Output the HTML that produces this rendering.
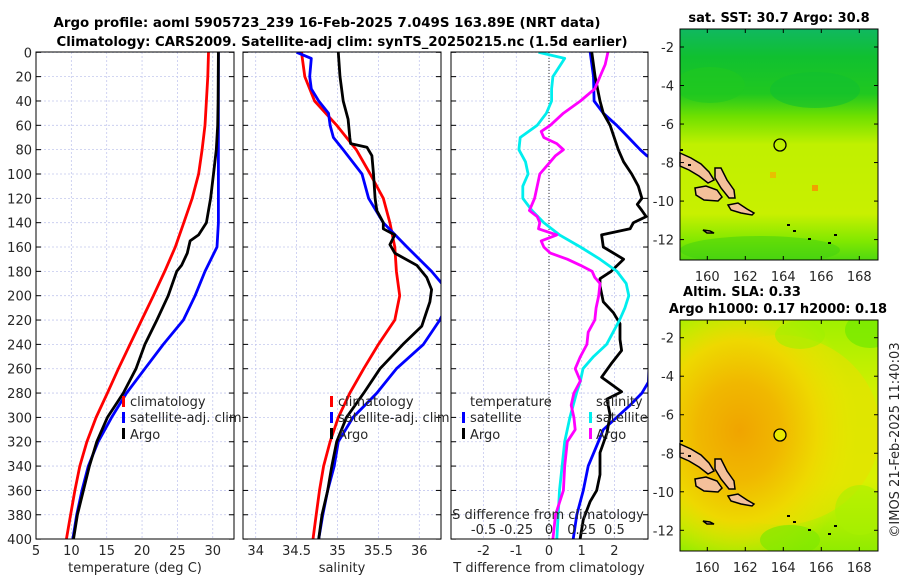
<!DOCTYPE html>
<html><head><meta charset="utf-8"><style>
html,body{margin:0;padding:0;background:#fff}
svg{display:block;font-family:"DejaVu Sans","Liberation Sans",sans-serif}
.tl{font-size:13px;fill:#262626}
.tt{font-size:13px;font-weight:bold;fill:#000}
</style></head><body>
<svg id="fig" width="900" height="580" viewBox="0 0 900 580" xmlns="http://www.w3.org/2000/svg">
<defs>
<clipPath id="c1"><rect x="36" y="52" width="198" height="487"/></clipPath>
<clipPath id="c2"><rect x="243" y="52" width="198" height="487"/></clipPath>
<clipPath id="c3"><rect x="451" y="52" width="197" height="487"/></clipPath>
<clipPath id="m1"><rect x="680" y="29" width="198" height="231"/></clipPath>
<clipPath id="m2"><rect x="680" y="320" width="198" height="231"/></clipPath>
<linearGradient id="sstg" x1="0" y1="0" x2="0" y2="1">
<stop offset="0" stop-color="#10b860"/><stop offset="0.12" stop-color="#10c030"/>
<stop offset="0.28" stop-color="#20c820"/><stop offset="0.38" stop-color="#70e000"/>
<stop offset="0.5" stop-color="#c0f000"/><stop offset="0.8" stop-color="#c8f000"/>
<stop offset="0.92" stop-color="#80e800"/><stop offset="1" stop-color="#50d810"/>
</linearGradient>
<radialGradient id="slao" cx="0.3" cy="0.48" r="0.6">
<stop offset="0" stop-color="#f0a400"/><stop offset="0.35" stop-color="#f0b800"/>
<stop offset="0.65" stop-color="#eed800"/><stop offset="1" stop-color="#e8e800" stop-opacity="0"/>
</radialGradient>
<linearGradient id="slab" x1="0" y1="0" x2="0" y2="1">
<stop offset="0" stop-color="#a0f000"/><stop offset="0.3" stop-color="#d0f000"/>
<stop offset="0.7" stop-color="#d8f000"/><stop offset="1" stop-color="#90ec00"/>
</linearGradient>
</defs>

<text class="tt" x="327" y="27" text-anchor="middle" textLength="547" lengthAdjust="spacingAndGlyphs">Argo profile: aoml 5905723_239 16-Feb-2025 7.049S 163.89E (NRT data)</text>
<text class="tt" x="342" y="46" text-anchor="middle" textLength="571" lengthAdjust="spacingAndGlyphs">Climatology: CARS2009. Satellite-adj clim: synTS_20250215.nc (1.5d earlier)</text>

<g id="p1"></g>
<g id="p2"></g>
<g id="p3"></g>

<g class="tl">
<rect x="122" y="396" width="3" height="11" fill="#f00"/><text x="130" y="406">climatology</text>
<rect x="122" y="412" width="3" height="11" fill="#00f"/><text x="130" y="422">satellite-adj. clim</text>
<rect x="122" y="428" width="3" height="11" fill="#000"/><text x="130" y="439">Argo</text>
</g>
<g class="tl">
<rect x="330" y="396" width="3" height="11" fill="#f00"/><text x="338" y="406">climatology</text>
<rect x="330" y="412" width="3" height="11" fill="#00f"/><text x="338" y="422">satellite-adj. clim</text>
<rect x="330" y="428" width="3" height="11" fill="#000"/><text x="338" y="439">Argo</text>
</g>
<g class="tl">
<text x="470" y="406">temperature</text>
<rect x="462" y="412" width="3" height="11" fill="#00f"/><text x="470" y="422">satellite</text>
<rect x="462" y="428" width="3" height="11" fill="#000"/><text x="470" y="439">Argo</text>
<text x="596" y="406">salinity</text>
<rect x="589" y="412" width="3" height="11" fill="#0ee"/><text x="596" y="422">satellite</text>
<rect x="589" y="428" width="3" height="11" fill="#f0f"/><text x="596" y="439">Argo</text>
</g>

<!-- maps -->
<g>
<text class="tt" x="779" y="22" text-anchor="middle">sat. SST: 30.7 Argo: 30.8</text>
<g clip-path="url(#m1)">
<rect x="680" y="29" width="198" height="231" fill="url(#sstg)"/>
<ellipse cx="710" cy="85" rx="35" ry="18" fill="#20c820" opacity="0.6"/>
<ellipse cx="815" cy="90" rx="45" ry="18" fill="#10c030" opacity="0.6"/>
<ellipse cx="760" cy="250" rx="80" ry="14" fill="#40d010" opacity="0.5"/>
<rect x="812" y="185" width="6" height="6" fill="#f0a000"/>
<rect x="770" y="172" width="6" height="6" fill="#e8c000"/>
</g>
<g id="isl1"></g>
<circle cx="780" cy="145" r="6" fill="none" stroke="#000" stroke-width="1.3"/>
<rect x="680" y="29" width="198" height="231" fill="none" stroke="#000" stroke-width="1"/>
</g>
<g>
<text class="tt" x="742" y="296" text-anchor="middle">Altim. SLA: 0.33</text>
<text class="tt" x="778" y="313" text-anchor="middle">Argo h1000: 0.17 h2000: 0.18</text>
<g clip-path="url(#m2)">
<rect x="680" y="320" width="198" height="231" fill="url(#slab)"/>
<ellipse cx="780" cy="430" rx="100" ry="95" fill="#e8e000" opacity="0.6"/>
<rect x="680" y="320" width="198" height="231" fill="url(#slao)"/>
<ellipse cx="870" cy="330" rx="25" ry="18" fill="#70e800" opacity="0.7"/>
<ellipse cx="800" cy="335" rx="25" ry="14" fill="#a0f000" opacity="0.6"/>
<ellipse cx="790" cy="540" rx="30" ry="15" fill="#80e800" opacity="0.7"/>
<ellipse cx="860" cy="510" rx="25" ry="25" fill="#a8f000" opacity="0.6"/>
</g>
<g id="isl2"></g>
<circle cx="780" cy="435" r="6" fill="#e8e800" stroke="#000" stroke-width="1.3"/>
<rect x="680" y="320" width="198" height="231" fill="none" stroke="#000" stroke-width="1"/>
</g>
<g id="mapaxes" class="tl"></g>
<text class="tl" transform="translate(899,440) rotate(-90)" text-anchor="middle">©IMOS 21-Feb-2025 11:40:03</text>

<script>
// ---- data (depth in m) ----
const depths = [0,20,40,60,80,100,120,140,160,180,200,220,240,260,280,300,320,340,360,380,400];
const tClim = [29.4,29.3,29.1,28.9,28.5,28.0,27.1,25.9,24.7,23.2,21.6,19.95,18.3,16.65,15.1,13.5,12.2,11.2,10.5,9.9,9.3];
const tSat  = [30.8,30.8,30.8,30.8,30.8,30.8,30.8,30.8,30.6,28.9,27.5,25.85,23.0,20.4,17.8,15.7,13.8,12.4,11.5,10.75,10.2];
const argoDepths = [0,40,60,80,100,120,130,140,150,155,165,175,180,200,220,240,260,280,300,320,340,360,380,400];
const tArgo = [30.8,30.75,30.7,30.5,30.1,29.7,29.4,29.1,28.0,26.8,26.4,25.6,24.9,23.7,22.1,20.4,19.15,17.35,15.1,13.6,12.55,11.7,10.85,10.3];

const sClim = [34.56,34.60,34.72,34.99,35.23,35.40,35.56,35.64,35.70,35.72,35.76,35.70,35.5,35.32,35.15,35.01,34.91,34.83,34.78,34.74,34.70];
const sSatDepths = [0,5,20,30,40,50,60,70,80,100,120,140,160,180,200,220,240,260,280,300,320,340,360,380,400];
const sSat = [34.50,34.68,34.66,34.68,34.77,34.89,34.91,34.95,35.07,35.30,35.38,35.56,35.85,36.15,36.40,36.25,36.05,35.72,35.48,35.19,35.01,34.96,34.88,34.82,34.77];
const sArgoDepths = [0,20,40,55,70,75,78,85,100,120,130,140,145,150,158,165,175,185,195,205,215,225,240,260,280,300,320,340,360,380,400];
const sArgo = [35.01,35.03,35.07,35.13,35.15,35.16,35.36,35.42,35.44,35.46,35.48,35.56,35.56,35.70,35.64,35.70,35.97,36.09,36.15,36.13,36.08,36.03,35.8,35.52,35.32,35.11,34.99,34.93,34.88,34.81,34.77];

const dtSatDepths = [0,20,40,50,60,70,80,85,90,271,280,290,300,310,320,340,360,380,400];
const dtSat = [1.26,1.36,1.38,1.66,2.07,2.43,2.79,2.99,3.3,3.04,2.84,2.48,2.07,1.66,1.51,1.2,1.05,0.85,0.74];
const dtArgoDepths = [0,20,40,50,60,80,90,100,110,120,125,130,135,140,145,150,160,170,180,186,192,205,214,223,236,245,256,267,279,285,298,313,329,347,360,369,384,400];
const dtArgo = [1.31,1.41,1.56,1.66,1.87,2.12,2.28,2.53,2.73,2.84,2.7,2.84,2.97,2.58,2.48,1.61,1.66,2.28,1.9,1.56,1.56,1.66,1.97,2.17,2.17,2.22,1.9,1.61,2.22,1.77,1.87,1.77,1.56,1.56,1.46,1.26,1.05,0.95];
const dsSatDepths = [0,5,15,20,30,40,50,60,70,80,90,100,110,120,130,140,150,160,170,180,190,200,210,220,230,240,250,260,270,280,300,320,340,360,380,400];
const dsSat = [-0.08,0.12,0.06,0.03,0.02,0.02,-0.02,-0.09,-0.22,-0.23,-0.18,-0.16,-0.2,-0.2,-0.13,-0.04,0.08,0.24,0.39,0.52,0.59,0.61,0.58,0.54,0.49,0.44,0.34,0.26,0.24,0.21,0.16,0.12,0.1,0.08,0.07,0.06];
const dsArgoDepths = [0,10,20,30,40,50,60,65,70,75,80,85,90,100,110,120,125,130,135,140,145,150,155,160,165,170,175,180,185,190,200,210,220,230,240,250,260,270,280,290,300,310,320,340,360,380,400];
const dsArgo = [0.45,0.43,0.39,0.35,0.24,0.11,0.01,-0.06,-0.04,0.06,0.11,0.05,0.01,-0.07,-0.09,-0.11,-0.13,-0.15,-0.09,-0.07,-0.08,0.06,-0.06,-0.04,0.01,0.14,0.24,0.33,0.35,0.39,0.38,0.36,0.35,0.3,0.29,0.24,0.2,0.24,0.19,0.17,0.19,0.2,0.14,0.12,0.11,0.05,0.03];

const depthTicks = [0,20,40,60,80,100,120,140,160,180,200,220,240,260,280,300,320,340,360,380,400];
const tTicks = [5,10,15,20,25,30];
const sTicks = [34,34.5,35,35.5,36];
const dtTicks = [-2,-1,0,1,2];
const dsTicks = [-0.5,-0.25,0,0.25,0.5];
const lonTicks = [160,162,164,166,168];
const latTicks = [-2,-4,-6,-8,-10,-12];

// ---- scales ----
const yD = d => 52.3 + d*1.217;
const xT = t => 36 + (t-5)*7.07;
const xS = s => 255.7 + (s-34)*81.8;
const xDT = v => 549 + v*32.7;
const xDS = v => 549 + v*130.8;
const mx = lon => 707.3 + (lon-160)*19;
const myTop = lat => 47 + (-2-lat)*19.26;
const myBot = lat => 337.7 + (-2-lat)*19.26;

const NS = 'http://www.w3.org/2000/svg';
function mk(tag, attrs, parent){ const e=document.createElementNS(NS,tag); for(const k in attrs) e.setAttribute(k,attrs[k]); parent.appendChild(e); return e; }

function frame(g, x0, x1, xticks, xs, labelsLeft){
  depthTicks.forEach(d=>{
    const gl=mk('line',{x1:x0,x2:x1,y1:yD(d),y2:yD(d),stroke:'#c4c8ee','stroke-width':0.8,'stroke-dasharray':'2,2'},g);
    
    
  });
  xticks.forEach(v=>{
    const gl=mk('line',{x1:xs(v),x2:xs(v),y1:52,y2:539,stroke:'#c4c8ee','stroke-width':0.8,'stroke-dasharray':'2,2'},g);
    
    
  });
  depthTicks.forEach(d=>{
    mk('line',{x1:x0,x2:x0+5,y1:yD(d),y2:yD(d),stroke:'#000','stroke-width':1},g);
    mk('line',{x1:x1-5,x2:x1,y1:yD(d),y2:yD(d),stroke:'#000','stroke-width':1},g);
    if(labelsLeft){
      const t=mk('text',{x:x0-4,y:yD(d)+5,'text-anchor':'end',class:'tl'},g);
      t.textContent=d;
      
      
    }
  });
}
function xlabels(g, ticks, xs, y){
  ticks.forEach(v=>{
    const t=mk('text',{x:xs(v),y:y,'text-anchor':'middle',class:'tl'},g);
    t.textContent=v;
    
    
  });
}
function line(g, ds, vs, xs, color, name, clip){
  const pts=ds.map((d,i)=>xs(vs[i]).toFixed(1)+','+yD(d).toFixed(1)).join(' ');
  const p=mk('polyline',{points:pts,fill:'none',stroke:color,'stroke-width':2.8,'stroke-linejoin':'round','clip-path':'url(#'+clip+')'},g);
  
  
}
function border(g,x0,x1){ mk('rect',{x:x0,y:52,width:x1-x0,height:487,fill:'none',stroke:'#000','stroke-width':1},g); }

const p1=document.getElementById('p1');
frame(p1,36,234,tTicks,xT,true);
line(p1,depths,tClim,xT,'#f00','temp-climatology-line','c1');
line(p1,depths,tSat,xT,'#00f','temp-satellite-line','c1');
line(p1,argoDepths,tArgo,xT,'#000','temp-argo-line','c1');
border(p1,36,234);
xlabels(p1,tTicks,xT,555);
const a1=mk('text',{x:135,y:572,'text-anchor':'middle',class:'tl'},p1); a1.textContent='temperature (deg C)';



const p2=document.getElementById('p2');
frame(p2,243,441,sTicks,xS,false);
line(p2,depths,sClim,xS,'#f00','sal-climatology-line','c2');
line(p2,sSatDepths,sSat,xS,'#00f','sal-satellite-line','c2');
line(p2,sArgoDepths,sArgo,xS,'#000','sal-argo-line','c2');
border(p2,243,441);
xlabels(p2,sTicks,xS,555);
const a2=mk('text',{x:342,y:572,'text-anchor':'middle',class:'tl'},p2); a2.textContent='salinity';



const p3=document.getElementById('p3');
frame(p3,451,648,dtTicks,xDT,false);
mk('line',{x1:549,x2:549,y1:52,y2:539,stroke:'#333','stroke-width':1,'stroke-dasharray':'1,2'},p3);
line(p3,dtSatDepths,dtSat,xDT,'#00f','tdiff-satellite-line','c3');
line(p3,dtArgoDepths,dtArgo,xDT,'#000','tdiff-argo-line','c3');
line(p3,dsSatDepths,dsSat,xDS,'#0ee','sdiff-satellite-line','c3');
line(p3,dsArgoDepths,dsArgo,xDS,'#f0f','sdiff-argo-line','c3');
border(p3,451,648);
xlabels(p3,dtTicks,xDT,555);
xlabels(p3,dsTicks,xDS,534);
const a3=mk('text',{x:549,y:572,'text-anchor':'middle',class:'tl'},p3); a3.textContent='T difference from climatology';


const a4=mk('text',{x:548,y:519,'text-anchor':'middle',class:'tl'},p3); a4.textContent='S difference from climatology';



// map axes
const ma=document.getElementById('mapaxes');
[[myTop,260,276],[myBot,551,567]].forEach(([my,bot,ly])=>{
  lonTicks.forEach(l=>{
    mk('line',{x1:mx(l),x2:mx(l),y1:bot,y2:bot-4,stroke:'#000'},ma);
    mk('line',{x1:mx(l),x2:mx(l),y1:bot-231,y2:bot-227,stroke:'#000'},ma);
    const t=mk('text',{x:mx(l),y:ly+5,'text-anchor':'middle'},ma); t.textContent=l;
    
    
  });
  latTicks.forEach(l=>{
    mk('line',{x1:680,x2:684,y1:my(l),y2:my(l),stroke:'#000'},ma);
    mk('line',{x1:874,x2:878,y1:my(l),y2:my(l),stroke:'#000'},ma);
    const t=mk('text',{x:674,y:my(l)+5,'text-anchor':'end'},ma); t.textContent=l;
    
    
  });
});

// islands (pixel offsets relative to top-left of map)
const islands=[
 [[0,124],[11,129],[21,135],[29,143],[34,151],[28,154],[19,147],[9,141],[0,137]],
 [[35,139],[41,139],[47,151],[54,161],[55,169],[49,169],[41,159],[35,149]],
 [[15,159],[26,157],[37,161],[42,168],[38,172],[24,171],[16,166]],
 [[48,176],[58,174],[67,180],[74,184],[72,186],[61,184],[51,181]],
 [[23,201],[30,202],[34,204],[27,204]]
];
['isl1','isl2'].forEach((id,k)=>{
  const g=document.getElementById(id); const oy=k?320:29;
  islands.forEach(poly=>{
    mk('polygon',{points:poly.map(p=>(680+p[0])+','+(oy+p[1])).join(' '),fill:'#f4c09a',stroke:'#000','stroke-width':1.5},g);
  });
  [[8,135],[107,195],[113,201],[128,209],[148,213],[154,205],[0,120]].forEach(p=>mk('rect',{x:680+p[0],y:oy+p[1],width:3,height:2,fill:'#000'},g));
});
</script>
</svg>
</body></html>
